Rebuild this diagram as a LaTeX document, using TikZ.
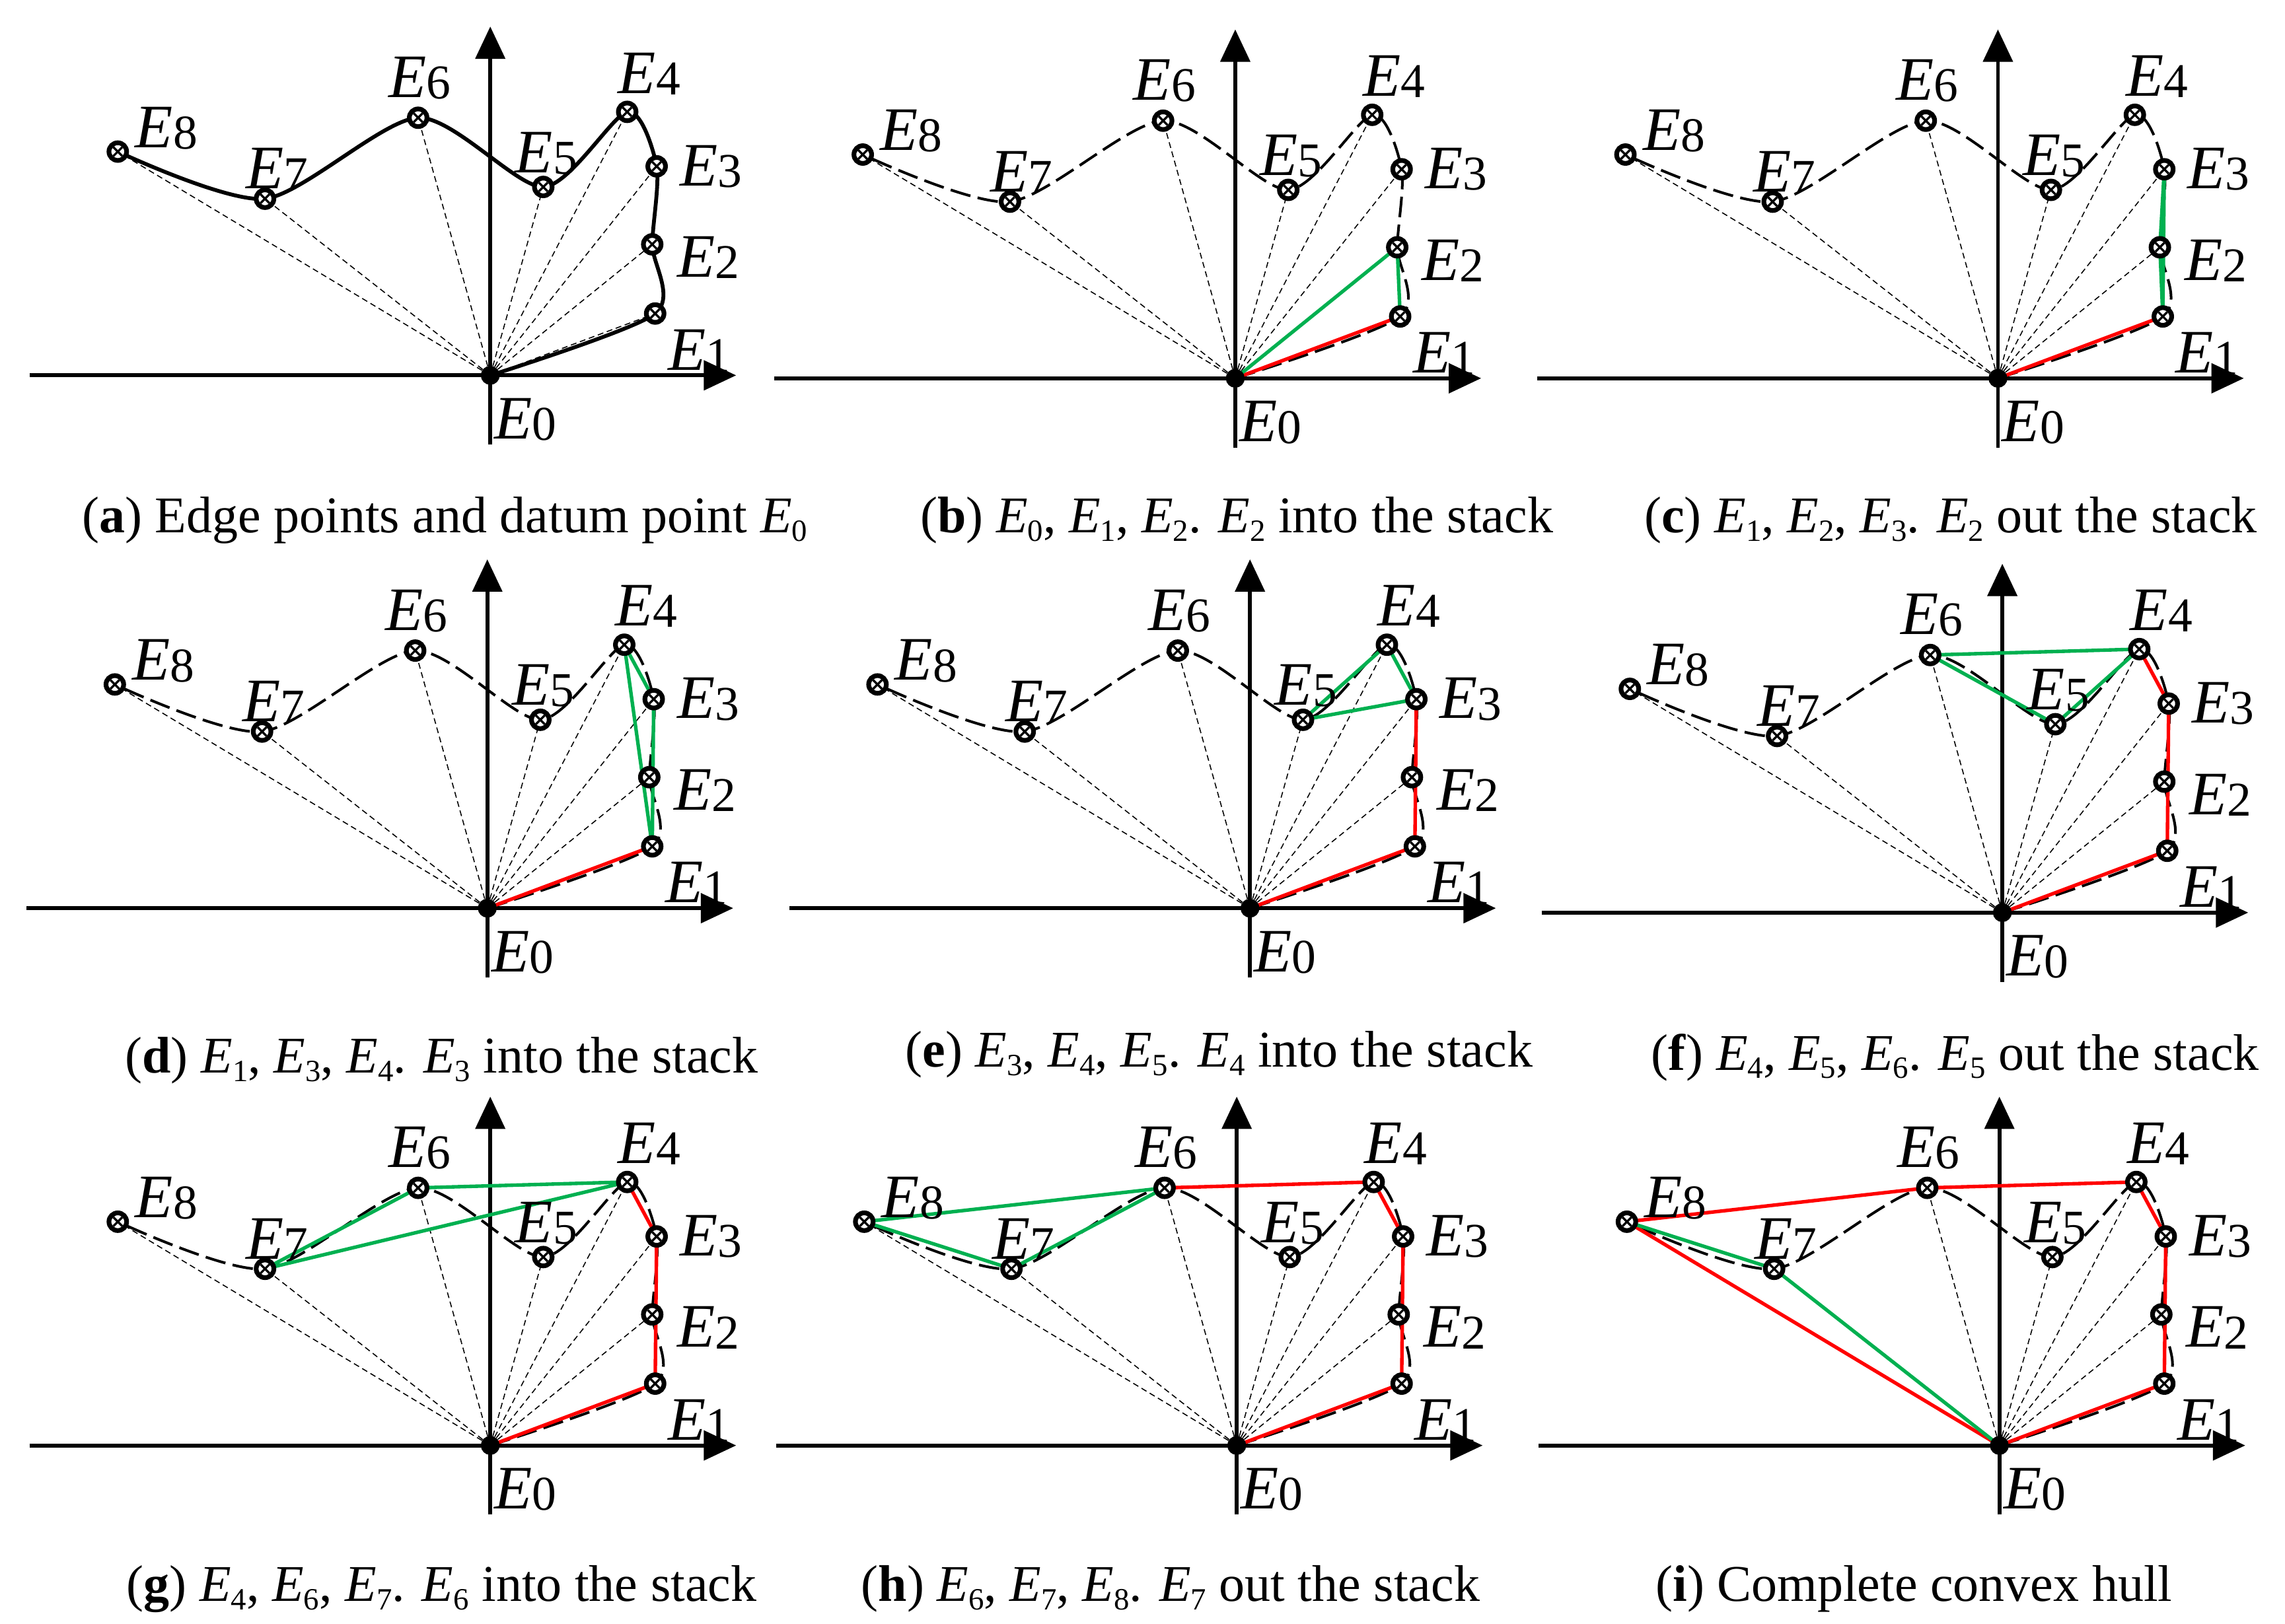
\documentclass[tikz,border=0pt]{standalone}
\usepackage{fontspec}
\setmainfont{Liberation Serif}
\usetikzlibrary{arrows.meta,calc}
\definecolor{gr}{RGB}{0,176,80}
\definecolor{rd}{RGB}{255,0,0}
\newcommand\lab[1]{{\fontsize{42}{42}\selectfont\textit{E}\raisebox{-0.05ex}{\fontsize{33}{33}\selectfont #1}}}
\newcommand\cs[1]{\textit{E}\raisebox{-0.35ex}{\fontsize{21}{21}\selectfont #1}}
\newcommand\mk[1]{\draw[line width=3.2pt,fill=white] (#1) circle (6);
 \draw[line width=1.5pt] ($(#1)+(-3,-3)$)--($(#1)+(3,3)$) ($(#1)+(-3,3)$)--($(#1)+(3,-3)$);}
\tikzset{x=1pt,y=1pt,
 axis/.style={line width=2.6pt,-{Triangle[length=22,width=20]}},
 ray/.style={dashed,line width=0.7pt,dash pattern=on 4pt off 2.5pt},
 hull/.style={rd,line width=2.4pt,line join=round},
 cand/.style={gr,line width=2.4pt,line join=round},
 curv/.style={line width=1.8pt,dash pattern=on 14pt off 5pt},
 captxt/.style={font=\fontsize{35}{35}\selectfont,anchor=base}}
\newcommand\panel[4]{%
\begin{scope}[shift={(#1,-#2)}]
 \coordinate (E0) at (0,0); \coordinate (E1) at (112,42); \coordinate (E2) at (110,89);
 \coordinate (E3) at (113,142); \coordinate (E4) at (93,179); \coordinate (E5) at (36,128);
 \coordinate (E6) at (-49,175); \coordinate (E7) at (-153,120); \coordinate (E8) at (-253,152);
 \draw[axis] (-313,0) -- (167,0);
 \draw[axis] (0,-47) -- (0,237);
 \foreach \i in {1,...,8} \draw[ray] (E0) -- (E\i);
 \draw[#3] plot[smooth,tension=0.45] coordinates {(E0) (E1) (E2) (E3) (E4) (E5) (E6) (E7) (E8)};
 #4
 \foreach \i in {1,...,8} {\mk{E\i}}
 \draw[line width=2.8pt,fill=black] (E0) circle (5);
 \node at (24,-30) {\lab{0}};
 \node at (142,17) {\lab{1}};
 \node at (148,80) {\lab{2}};
 \node at (150,142) {\lab{3}};
 \node at (108,205) {\lab{4}};
 \node at (38,151) {\lab{5}};
 \node at (-48,202) {\lab{6}};
 \node at (-145,140) {\lab{7}};
 \node at (-220,168) {\lab{8}};
\end{scope}}
\begin{document}
\begin{tikzpicture}
\useasboundingbox (0,0) rectangle (1552,-1103);
\panel{333}{255}{line width=2.6pt}{}
\panel{839}{257}{curv}{\draw[hull] (E0)--(E1); \draw[cand] (E0)--(E2)--(E1);}
\panel{1357}{257}{curv}{\draw[hull] (E0)--(E1); \draw[cand] (E1)--(E2)--(E3)--cycle;}
\panel{331}{617}{curv}{\draw[hull] (E0)--(E1); \draw[cand] (E1)--(E3)--(E4)--cycle;}
\panel{849}{617}{curv}{\draw[hull] (E0)--(E1)--(E3); \draw[cand] (E3)--(E4)--(E5)--cycle;}
\panel{1360}{620}{curv}{\draw[hull] (E0)--(E1)--(E3)--(E4); \draw[cand] (E4)--(E5)--(E6)--cycle;}
\panel{333}{982}{curv}{\draw[hull] (E0)--(E1)--(E3)--(E4); \draw[cand] (E4)--(E6)--(E7)--cycle;}
\panel{840}{982}{curv}{\draw[hull] (E0)--(E1)--(E3)--(E4)--(E6); \draw[cand] (E6)--(E7)--(E8)--cycle;}
\panel{1358}{982}{curv}{\draw[hull] (E0)--(E1)--(E3)--(E4)--(E6)--(E8)--cycle; \draw[cand] (E8)--(E7)--(E0);}
\node[captxt] (ca) at (302,-362) {(\textbf{a}) Edge points and datum point \cs{0}};
\node[captxt] (cb) at (840,-362) {(\textbf{b}) \cs{0}, \cs{1}, \cs{2}. \cs{2} into the stack};
\node[captxt] (cc) at (1325,-362) {(\textbf{c}) \cs{1}, \cs{2}, \cs{3}. \cs{2} out the stack};
\node[captxt] (cd) at (300,-729) {(\textbf{d}) \cs{1}, \cs{3}, \cs{4}. \cs{3} into the stack};
\node[captxt] (ce) at (828,-725) {(\textbf{e}) \cs{3}, \cs{4}, \cs{5}. \cs{4} into the stack};
\node[captxt] (cf) at (1328,-727) {(\textbf{f}) \cs{4}, \cs{5}, \cs{6}. \cs{5} out the stack};
\node[captxt] (cg) at (300,-1088) {(\textbf{g}) \cs{4}, \cs{6}, \cs{7}. \cs{6} into the stack};
\node[captxt] (ch) at (795,-1088) {(\textbf{h}) \cs{6}, \cs{7}, \cs{8}. \cs{7} out the stack};
\node[captxt] (ci) at (1300,-1088) {(\textbf{i}) Complete convex hull};
\end{tikzpicture}
\end{document}
